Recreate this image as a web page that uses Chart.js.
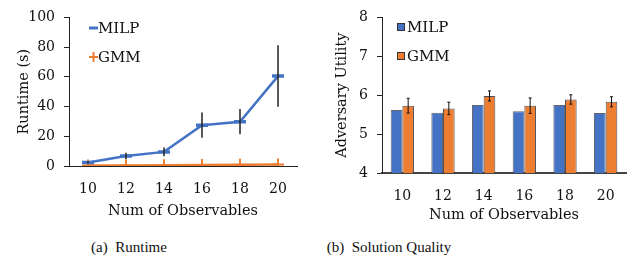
<!DOCTYPE html>
<html>
<head>
<meta charset="utf-8">
<script src="https://cdn.jsdelivr.net/npm/chart.js@4.4.0/dist/chart.umd.min.js"></script>
<style>
  html, body { margin: 0; padding: 0; background: #fff; }
  #wrap { position: relative; width: 639px; height: 265px; overflow: hidden; }
  #c1 { position: absolute; left: 0; top: 0; }
  #c2 { position: absolute; left: 320px; top: 0; }
  .cap { position: absolute; top: 239px; font-family: "Liberation Serif", serif; font-size: 15px; color: #111; white-space: pre; transform: translateX(-50%); }
</style>
</head>
<body>
<div id="wrap">
  <canvas id="c1" width="320" height="230"></canvas>
  <canvas id="c2" width="319" height="230"></canvas>
  <div class="cap" style="left:129px">(a)  Runtime</div>
  <div class="cap" style="left:389px">(b)  Solution Quality</div>
</div>
<script>
const categories = ['10', '12', '14', '16', '18', '20'];
const runtimeMILP = [2.4, 6.8, 9.5, 27.5, 29.8, 60.5];
const runtimeMILPErr = [0.8, 2.2, 3.0, 8.5, 8.5, 20.7];
const runtimeGMM = [0.3, 0.4, 0.5, 0.6, 0.8, 1.0];
const utilMILP = [5.62, 5.55, 5.75, 5.59, 5.75, 5.54];
const utilGMM = [5.73, 5.66, 5.98, 5.73, 5.89, 5.83];
const utilGMMErr = [0.19, 0.16, 0.13, 0.20, 0.12, 0.13];
const runtimeTicks = [0, 20, 40, 60, 80, 100];
const utilTicks = [4, 5, 6, 7, 8];

const BLUE = '#4472C4';
const ORANGE = '#ED7D31';
const FONT = '"DejaVu Serif", serif';

const errorBars = {
  id: 'errorBars',
  afterDatasetsDraw(chart, args, opts) {
    const ctx = chart.ctx;
    const ys = chart.scales.y;
    chart.data.datasets.forEach((ds, di) => {
      if (!ds.errors) return;
      const meta = chart.getDatasetMeta(di);
      ctx.save();
      ctx.strokeStyle = opts.color || '#222';
      ctx.lineWidth = opts.width || 1;
      meta.data.forEach((el, i) => {
        const v = ds.data[i], e = ds.errors[i];
        const x = el.x;
        const y1 = ys.getPixelForValue(v + e), y2 = ys.getPixelForValue(v - e);
        ctx.beginPath();
        ctx.moveTo(x, y1); ctx.lineTo(x, y2);
        if (opts.cap) {
          ctx.moveTo(x - opts.cap, y1); ctx.lineTo(x + opts.cap, y1);
          ctx.moveTo(x - opts.cap, y2); ctx.lineTo(x + opts.cap, y2);
        }
        ctx.stroke();
      });
      ctx.restore();
    });
  }
};

const inLegend = {
  id: 'inLegend',
  afterDraw(chart, args, opts) {
    const ctx = chart.ctx;
    ctx.save();
    ctx.font = opts.font;
    ctx.fillStyle = '#111';
    ctx.textBaseline = 'middle';
    chart.data.datasets.forEach((ds, i) => {
      const it = opts.items[i];
      const y = it.y, x = it.x;
      if (opts.kind === 'line') {
        ctx.strokeStyle = ds.borderColor;
        ctx.lineWidth = ds.pointStyle === 'line' ? 3 : 2;
        ctx.beginPath();
        if (ds.pointStyle === 'line') {
          ctx.moveTo(x, y); ctx.lineTo(x + 9, y);
        } else {
          ctx.moveTo(x, y); ctx.lineTo(x + 9, y);
          ctx.moveTo(x + 4.5, y - 5); ctx.lineTo(x + 4.5, y + 5);
        }
        ctx.stroke();
        ctx.fillStyle = '#111';
        ctx.fillText(ds.label, x + 9, y + 1);
      } else {
        ctx.fillStyle = ds.backgroundColor;
        ctx.fillRect(x, y - 4, 8, 8);
        ctx.strokeStyle = '#333';
        ctx.lineWidth = 1;
        ctx.strokeRect(x + 0.5, y - 3.5, 7, 7);
        ctx.fillStyle = '#111';
        ctx.fillText(ds.label, x + 10, y + 1);
      }
    });
    ctx.restore();
  }
};

const tickFont = { family: FONT, size: 14 };
const titleFont = { family: FONT, size: 14.5 };

new Chart(document.getElementById('c1'), {
  type: 'line',
  data: {
    labels: categories,
    datasets: [
      { label: 'MILP', data: runtimeMILP, errors: runtimeMILPErr, borderColor: BLUE, backgroundColor: BLUE,
        borderWidth: 2.5, pointStyle: 'line', pointRadius: 6, pointBorderWidth: 3.5, pointHoverRadius: 6, tension: 0 },
      { label: 'GMM', data: runtimeGMM, borderColor: ORANGE, backgroundColor: ORANGE,
        borderWidth: 2.5, pointStyle: 'cross', pointRadius: 6, pointBorderWidth: 2, pointHoverRadius: 6, tension: 0 }
    ]
  },
  options: {
    responsive: false, animation: false,
    layout: { padding: { left: 0, right: 23, top: 14, bottom: 0 } },
    plugins: {
      legend: { display: false }, tooltip: { enabled: false },
      errorBars: { color: '#222', width: 1.5 },
      inLegend: { kind: 'line', font: '15px ' + FONT, items: [{ x: 89, y: 28 }, { x: 89, y: 57 }] }
    },
    scales: {
      x: {
        offset: true,
        grid: { display: false, drawTicks: false },
        border: { display: true, color: '#222', width: 1 },
        ticks: { font: tickFont, color: '#111', padding: 15, maxRotation: 0 },
        title: { display: true, text: 'Num of Observables', font: titleFont, color: '#111', padding: { top: 0, bottom: 10 } },
        afterFit(s) { s.height = 64; }
      },
      y: {
        min: 0, max: 100,
        afterBuildTicks(s) { s.ticks = runtimeTicks.map(v => ({ value: v })); },
        grid: { display: true, drawOnChartArea: false, drawTicks: true, tickLength: 5, color: '#222' },
        border: { display: true, color: '#222', width: 1 },
        ticks: { font: tickFont, color: '#111', padding: 9 },
        title: { display: true, text: 'Runtime (s)', font: titleFont, color: '#111', padding: { top: 16, bottom: 0 } },
        afterFit(s) { s.width = 69; }
      }
    }
  },
  plugins: [errorBars, inLegend]
});

new Chart(document.getElementById('c2'), {
  type: 'bar',
  data: {
    labels: categories,
    datasets: [
      { label: 'MILP', data: utilMILP, backgroundColor: BLUE, borderColor: 'rgba(50,50,60,0.75)', borderWidth: 1 },
      { label: 'GMM', data: utilGMM, errors: utilGMMErr, backgroundColor: ORANGE, borderColor: 'rgba(50,50,60,0.85)', borderWidth: 1 }
    ]
  },
  options: {
    responsive: false, animation: false,
    datasets: { bar: { categoryPercentage: 0.573, barPercentage: 1.0 } },
    layout: { padding: { left: 0, right: 13, top: 13, bottom: 0 } },
    plugins: {
      legend: { display: false }, tooltip: { enabled: false },
      errorBars: { color: '#111', width: 1, cap: 1.5 },
      inLegend: { kind: 'box', font: '15px ' + FONT, items: [{ x: 77, y: 27 }, { x: 77, y: 56 }] }
    },
    scales: {
      x: {
        grid: { display: false, drawTicks: false },
        border: { display: true, color: '#444', width: 2 },
        ticks: { font: tickFont, color: '#111', padding: 15, maxRotation: 0 },
        title: { display: true, text: 'Num of Observables', font: titleFont, color: '#111', padding: { top: 0, bottom: 6 } },
        afterFit(s) { s.height = 57; }
      },
      y: {
        min: 4, max: 8,
        afterBuildTicks(s) { s.ticks = utilTicks.map(v => ({ value: v })); },
        grid: { display: true, drawOnChartArea: false, drawTicks: true, tickLength: 5, color: '#222' },
        border: { display: true, color: '#222', width: 1 },
        ticks: { font: tickFont, color: '#111', padding: 9 },
        title: { display: true, text: 'Adversary Utility', font: titleFont, color: '#111', padding: { top: 14, bottom: 0 } },
        afterFit(s) { s.width = 62; }
      }
    }
  },
  plugins: [errorBars, inLegend]
});
</script>
</body>
</html>
